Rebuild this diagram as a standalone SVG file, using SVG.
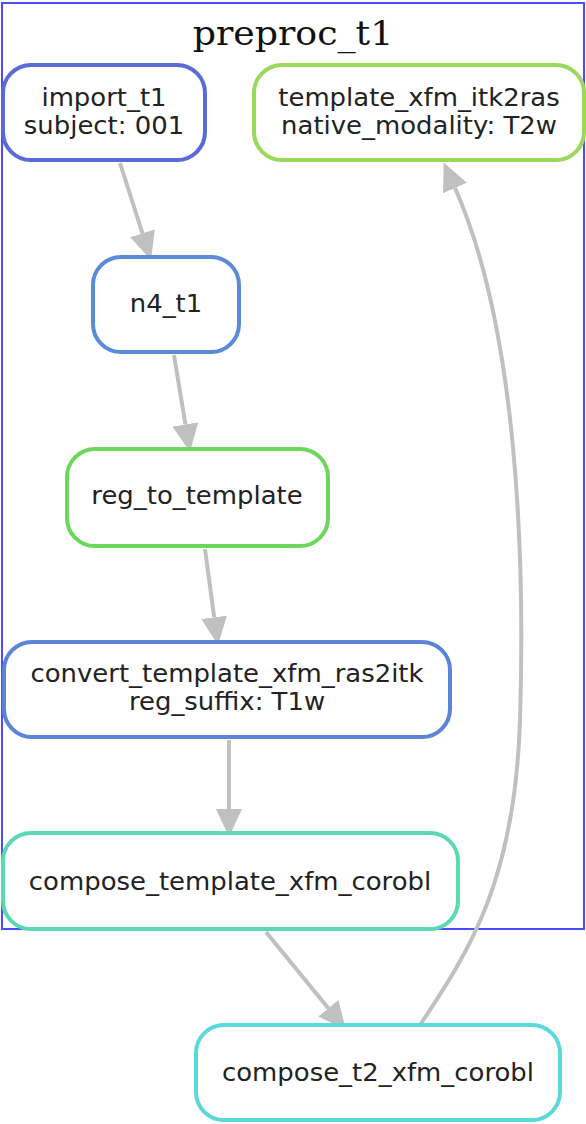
<svg xmlns="http://www.w3.org/2000/svg" width="586" height="1124" viewBox="0 0 586 1124">
<style>
.node rect{fill:#fff;stroke-width:4}
.node text{font-family:"DejaVu Sans",sans-serif;font-size:24px;fill:#222;text-anchor:middle}
.edge{fill:none;stroke:#c0c0c0;stroke-width:4}
.title{font-family:"DejaVu Serif",serif;font-size:33px;fill:#111;text-anchor:middle}
</style>
<defs>
<marker id="ah" viewBox="0 0 28 26" refX="0" refY="13" markerWidth="28" markerHeight="26" orient="auto" markerUnits="userSpaceOnUse">
<path d="M0,0 L28,13 L0,26 Z" fill="#c0c0c0"/>
</marker>
</defs>
<rect x="2" y="3" width="582" height="926" fill="#fff" stroke="#4b4bff" stroke-width="2"/>
<text class="title" transform="translate(293,45) scale(1.1,1)">preproc_t1</text>
<g id="connectors">
<path class="edge" d="M120,163 L142.5,233.3" marker-end="url(#ah)"/>
<path class="edge" d="M174,355 L185.4,424.4" marker-end="url(#ah)"/>
<path class="edge" d="M205,549 L214.2,617.3" marker-end="url(#ah)"/>
<path class="edge" d="M229,740 L229,809" marker-end="url(#ah)"/>
<path class="edge" d="M266,932 L328.3,1008.3" marker-end="url(#ah)"/>
<path class="edge" d="M420,1025 C470,950 515,880 520,720 C525,560 518,330 455,188" marker-end="url(#ah)"/>
</g>
<g id="import_t1" class="node">
<rect x="3" y="65" width="202" height="95" rx="28" stroke="#5a6ad8"/>
<text transform="translate(104,106) scale(1.08,1)">import_t1</text>
<text transform="translate(104,134) scale(1.08,1)">subject: 001</text>
</g>
<g id="template_xfm_itk2ras" class="node">
<rect x="254" y="65" width="330" height="95" rx="28" stroke="#9bd85b"/>
<text transform="translate(419,106) scale(1.08,1)">template_xfm_itk2ras</text>
<text transform="translate(419,134) scale(1.08,1)">native_modality: T2w</text>
</g>
<g id="n4_t1" class="node">
<rect x="93" y="257" width="146" height="95" rx="28" stroke="#5b8bd8"/>
<text transform="translate(166,312) scale(1.08,1)">n4_t1</text>
</g>
<g id="reg_to_template" class="node">
<rect x="67" y="449" width="261" height="97" rx="28" stroke="#6cd85b"/>
<text transform="translate(197,504) scale(1.08,1)">reg_to_template</text>
</g>
<g id="convert_template_xfm_ras2itk" class="node">
<rect x="4" y="642" width="446" height="95" rx="28" stroke="#5b83d8"/>
<text transform="translate(227,682) scale(1.08,1)">convert_template_xfm_ras2itk</text>
<text transform="translate(227,710) scale(1.08,1)">reg_suffix: T1w</text>
</g>
<g id="compose_template_xfm_corobl" class="node">
<rect x="3" y="833" width="455" height="96" rx="28" stroke="#5bd8b4"/>
<text transform="translate(230,890) scale(1.08,1)">compose_template_xfm_corobl</text>
</g>
<g id="compose_t2_xfm_corobl" class="node">
<rect x="196" y="1025" width="364" height="95" rx="28" stroke="#5bd8d8"/>
<text transform="translate(378,1081) scale(1.08,1)">compose_t2_xfm_corobl</text>
</g>
</svg>
